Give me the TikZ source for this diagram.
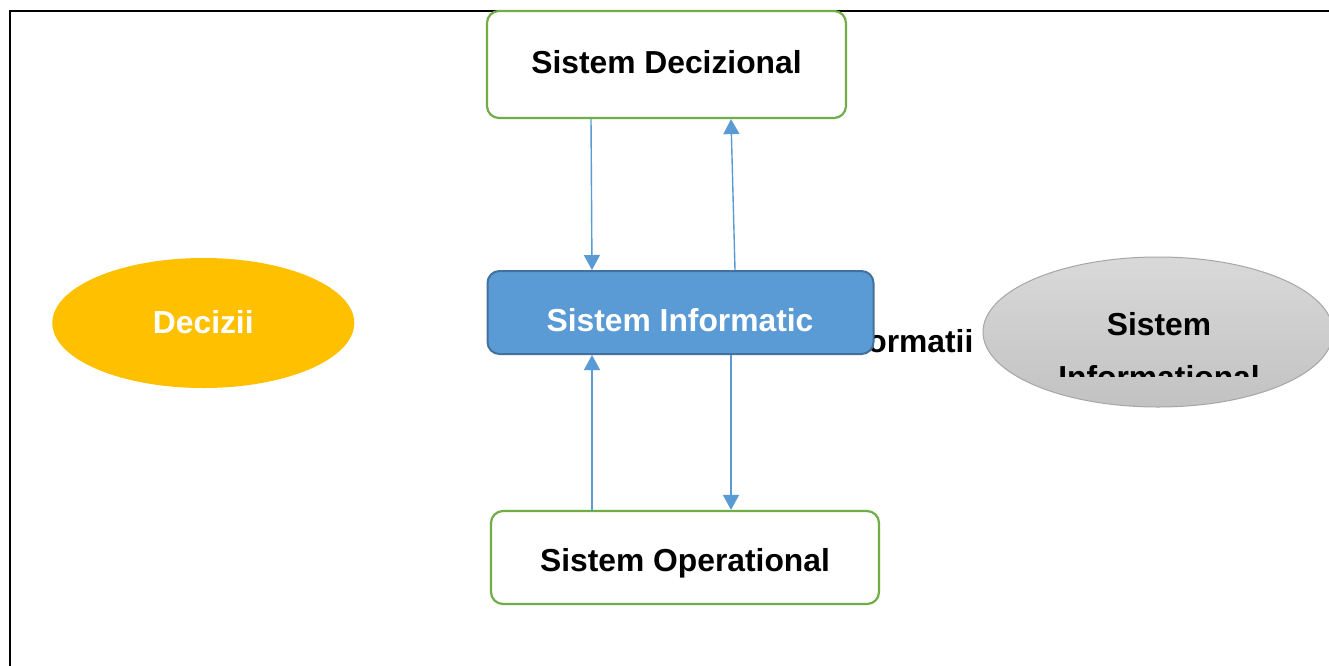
\documentclass[tikz,border=0pt]{standalone}
\usepackage{fontspec}
\setmainfont{Liberation Sans}
\usetikzlibrary{arrows.meta,shadings}
\definecolor{boxgreen}{HTML}{70AD47}
\definecolor{infoblue}{HTML}{5B9BD5}
\definecolor{infoedge}{HTML}{41719C}
\definecolor{decorange}{HTML}{FFC000}
\definecolor{greytop}{HTML}{D9D9D9}
\definecolor{greybot}{HTML}{C2C2C2}
\definecolor{greyedge}{HTML}{A6A6A6}
\tikzset{
  lbl/.style={font=\fontsize{31.8}{38}\selectfont\bfseries},
  sysbox/.style={draw=boxgreen, line width=2.2pt, fill=white, rounded corners=12pt, inner sep=0pt},
  flow/.style={draw=infoblue, line width=1.4pt, -{Triangle[width=16pt,length=15pt]}}
}
\begin{document}
\begin{tikzpicture}[x=1pt,y=-1pt]
\useasboundingbox (0,0) rectangle (1329,665);
\fill[white] (0,0) rectangle (1329,665);
% page frame (only top and left edges fall inside)
\draw[line width=2.2pt, black] (10,680) -- (10,11) -- (1345,11);

% boxes
\node[sysbox, minimum width=359pt, minimum height=107pt] (dec) at (666.5,64.5) {};
\node[lbl, anchor=base] (dect) at (666.5,73) {Sistem Decizional};

\node[sysbox, minimum width=388pt, minimum height=93pt] (op) at (685,557.5) {};
\node[lbl, anchor=base] (opt) at (685,571.5) {Sistem Operational};

% label partly hidden behind the central box
\node[lbl, anchor=base west] (infl) at (825,352) {Informatii};

\node[draw=infoedge, line width=2pt, fill=infoblue, rounded corners=12pt, inner sep=0pt,
      minimum width=386pt, minimum height=83pt] (inf) at (680.5,312.5) {};
\node[lbl, anchor=base, text=white] (inft) at (680,331.5) {Sistem Informatic};

% ellipses
\fill[decorange] (203.3,323) ellipse [x radius=151, y radius=65];
\node[lbl, anchor=base, text=white] (decz) at (203.3,333) {Decizii};

\path[top color=greytop, bottom color=greybot, draw=greyedge, line width=1pt]
  (1158,332) ellipse [x radius=175, y radius=75];
\node[lbl, anchor=base] (sit1) at (1159,335) {Sistem};
\begin{scope}
  \clip (980,250) rectangle (1340,376);
  \node[lbl, anchor=base] (sit2) at (1159,388) {Informational};
\end{scope}

% connectors
\draw[flow] (591,0 |- dec.south) -- (592,0 |- inf.north);
\draw[flow] (735,0 |- inf.north) -- (731,0 |- dec.south);
\draw[flow] (592,0 |- op.north) -- (592,0 |- inf.south);
\draw[flow] (731,0 |- inf.south) -- (731,0 |- op.north);
\end{tikzpicture}
\end{document}
